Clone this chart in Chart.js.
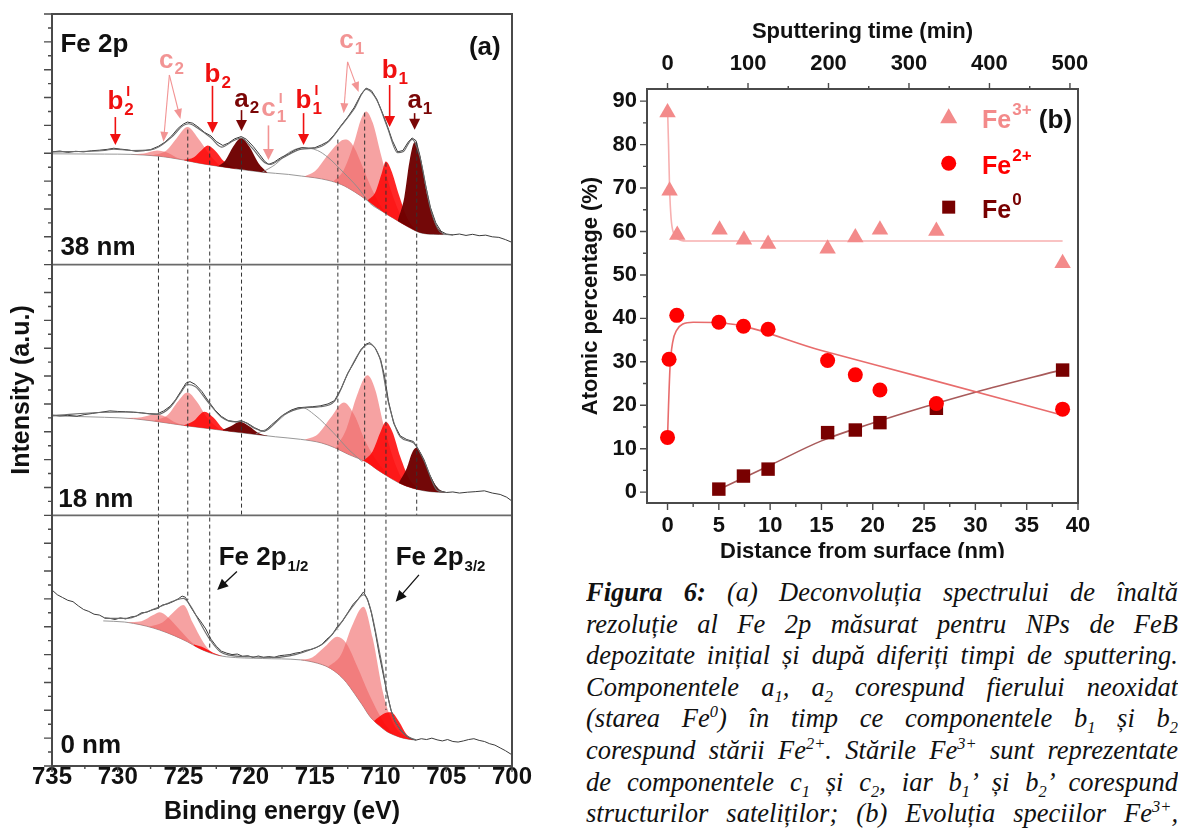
<!DOCTYPE html>
<html>
<head>
<meta charset="utf-8">
<script src="https://cdn.jsdelivr.net/npm/chart.js@4.4.1/dist/chart.umd.min.js"></script>
<style>
  body { margin: 0; background: #fff; width: 1194px; height: 828px; overflow: hidden; position: relative; }
  #cA { position: absolute; left: 0; top: 0; }
  #cB { position: absolute; left: 560px; top: 0; }
  #cap { position: absolute; left: 586px; top: 577px; width: 592px; height: 251px; overflow: hidden;
         font: italic 26.5px 'Liberation Serif', 'Times New Roman', serif; line-height: 31.6px; color: #111; }
  #cap div { text-align: justify; text-align-last: justify; }
  #cap sub, #cap sup { font-size: 62%; line-height: 0; }
</style>
</head>
<body>
<canvas id="cA" width="545" height="828"></canvas>
<canvas id="cB" width="560" height="558"></canvas>
<div id="cap">
  <div><b>Figura 6:</b> (a) Deconvoluția spectrului de înaltă</div>
  <div>rezoluție al Fe 2p măsurat pentru NPs de FeB</div>
  <div>depozitate inițial și după diferiți timpi de sputtering.</div>
  <div>Componentele a<sub>1</sub>, a<sub>2</sub> corespund fierului neoxidat</div>
  <div>(starea Fe<sup>0</sup>) în timp ce componentele b<sub>1</sub> și b<sub>2</sub></div>
  <div>corespund stării Fe<sup>2+</sup>. Stările Fe<sup>3+</sup> sunt reprezentate</div>
  <div>de componentele c<sub>1</sub> și c<sub>2</sub>, iar b<sub>1</sub>’ și b<sub>2</sub>’ corespund</div>
  <div>structurilor sateliților; (b) Evoluția speciilor Fe<sup>3+</sup>,</div>
</div>
<script>
Chart.defaults.font.family = "'Liberation Sans', Arial, sans-serif";

// ---------- panel (a): Fe 2p spectra, [binding energy eV, intensity inside its panel (0..9)]
const exp38 = [[735.0,4.05],[734.4,4.08],[733.8,4.03],[733.2,4.07],[732.6,4.05],[732.0,4.09],[731.4,4.11],[730.8,4.14],[730.3,4.18],[729.8,4.15],[729.2,4.12],[728.6,4.07],[728.0,4.09],[727.5,4.13],[726.9,4.25],[726.4,4.4],[725.9,4.62],[725.4,4.9],[725.0,5.05],[724.7,5.12],[724.3,5.08],[723.9,4.95],[723.4,4.75],[722.9,4.62],[722.5,4.42],[722.0,4.28],[721.6,4.36],[721.1,4.52],[720.6,4.6],[720.2,4.5],[719.7,4.25],[719.2,3.95],[718.8,3.7],[718.5,3.6],[718.1,3.68],[717.6,3.84],[717.0,3.98],[716.5,4.12],[716.0,4.2],[715.5,4.18],[715.0,4.2],[714.5,4.3],[714.0,4.42],[713.5,4.68],[713.0,5.0],[712.5,5.3],[712.0,5.65],[711.5,6.1],[711.1,6.34],[710.7,6.25],[710.3,5.95],[709.9,5.5],[709.5,5.0],[709.1,4.45],[708.7,4.05],[708.3,4.1],[707.9,4.4],[707.6,4.55],[707.3,4.45],[707.0,3.9],[706.6,2.9],[706.2,2.05],[705.8,1.5],[705.4,1.2],[705.0,1.1],[704.5,1.07],[704.0,1.1],[703.5,1.05],[703.0,1.09],[702.5,1.04],[702.0,1.06],[701.5,1.0],[701.0,0.98],[700.5,0.9],[700.0,0.8]];
const env38 = [[735.0,4.05],[731.0,4.1],[730.3,4.15],[729.0,4.1],[727.5,4.12],[726.9,4.22],[725.9,4.58],[725.0,5.0],[724.6,5.06],[723.9,4.9],[722.9,4.55],[722.1,4.22],[721.2,4.45],[720.6,4.55],[719.8,4.2],[718.8,3.66],[718.4,3.6],[717.5,3.82],[716.0,4.15],[715.0,4.18],[714.0,4.4],[713.0,4.98],[712.0,5.6],[711.1,6.3],[710.3,5.92],[709.5,4.95],[708.7,4.02],[708.3,4.05],[707.6,4.5],[707.0,3.85],[706.2,2.0],[705.4,1.15],[704.5,1.07]];
const bg38 = [[735.0,3.98],[731.0,3.97],[729.0,3.96],[727.0,3.9],[726.0,3.84],[725.0,3.76],[724.0,3.66],[723.0,3.58],[722.0,3.51],[721.0,3.44],[720.0,3.38],[719.0,3.32],[718.0,3.28],[717.0,3.24],[716.0,3.18],[715.0,3.12],[714.0,3.03],[713.0,2.88],[712.0,2.62],[711.0,2.3],[710.0,1.95],[709.0,1.66],[708.0,1.38],[707.0,1.15],[706.0,1.09],[705.0,1.08],[704.5,1.07]];
const comps38 = [
  { kind: 'c', pts: [[729.0,3.96],[728.0,3.99],[727.0,4.1],[726.2,4.02],[725.4,3.82],[724.6,3.71]] },
  { kind: 'c', pts: [[727.4,3.92],[726.3,4.1],[725.5,4.55],[724.7,4.94],[723.9,4.55],[723.0,3.95],[722.2,3.53]] },
  { kind: 'b', pts: [[725.0,3.76],[724.2,3.86],[723.6,4.12],[723.15,4.28],[722.6,4.1],[721.9,3.7],[721.0,3.44]] },
  { kind: 'a', pts: [[722.4,3.52],[721.8,3.75],[721.2,4.25],[720.6,4.55],[720.0,4.25],[719.3,3.65],[718.6,3.3]] },
  { kind: 'sat', pts: [[719.0,3.32],[718.0,3.6],[717.0,4.02],[715.9,4.2],[714.8,4.1],[714.0,3.85],[712.8,3.3],[711.7,2.75],[710.8,2.2],[710.0,1.95]] },
  { kind: 'c', pts: [[715.8,3.17],[715.0,3.35],[714.0,3.95],[713.0,4.45],[712.6,4.49],[712.0,4.2],[711.4,3.55],[710.6,2.65],[709.6,1.85],[709.0,1.66]] },
  { kind: 'c', pts: [[713.6,2.98],[712.8,3.4],[712.0,4.4],[711.5,5.2],[711.1,5.5],[710.6,5.1],[710.0,4.0],[709.3,2.8],[708.6,1.9],[708.0,1.38]] },
  { kind: 'b', pts: [[711.0,2.3],[710.4,2.6],[709.9,3.3],[709.6,3.7],[709.2,3.4],[708.6,2.5],[708.0,1.7],[707.3,1.22]] },
  { kind: 'a', pts: [[708.7,1.57],[708.2,2.4],[707.8,3.7],[707.4,4.4],[707.0,3.9],[706.5,2.6],[705.9,1.55],[705.2,1.08]] },
];

const exp18 = [[735.0,3.6],[734.4,3.57],[733.8,3.59],[733.1,3.56],[732.5,3.62],[731.9,3.66],[731.3,3.7],[730.6,3.75],[730.0,3.73],[729.4,3.72],[728.8,3.7],[728.2,3.68],[727.6,3.65],[727.0,3.64],[726.5,3.75],[726.0,3.92],[725.6,4.15],[725.2,4.45],[724.8,4.75],[724.5,4.8],[724.1,4.7],[723.6,4.45],[723.1,4.1],[722.6,3.78],[722.1,3.55],[721.6,3.4],[721.0,3.36],[720.6,3.4],[720.1,3.3],[719.6,3.15],[719.1,3.04],[718.8,3.02],[718.3,3.25],[717.8,3.45],[717.3,3.64],[716.8,3.78],[716.3,3.86],[715.8,3.88],[715.2,3.9],[714.6,3.93],[714.0,4.0],[713.5,4.12],[713.0,4.55],[712.5,5.1],[712.0,5.5],[711.5,5.95],[711.1,6.15],[710.8,6.2],[710.4,6.0],[710.0,5.6],[709.7,5.0],[709.4,4.1],[709.0,3.3],[708.5,2.85],[708.0,2.72],[707.5,2.65],[707.1,2.35],[706.7,2.0],[706.3,1.5],[705.9,1.1],[705.5,0.88],[705.0,0.82],[704.5,0.84],[704.0,0.8],[703.4,0.83],[702.8,0.85],[702.1,0.88],[701.5,0.8],[700.9,0.75],[700.4,0.65],[700.0,0.51]];
const env18 = [[735.0,3.58],[731.0,3.7],[729.0,3.71],[727.0,3.62],[726.0,3.88],[725.2,4.4],[724.7,4.7],[724.1,4.62],[723.1,4.05],[722.1,3.52],[721.0,3.35],[720.6,3.38],[719.6,3.13],[718.9,3.02],[717.4,3.6],[716.0,3.85],[714.6,3.9],[713.5,4.1],[712.5,5.08],[711.5,5.92],[710.9,6.15],[710.0,5.55],[709.4,4.05],[708.5,2.82],[707.5,2.6],[706.7,1.97],[705.7,0.9],[705.0,0.82]];
const bg18 = [[735.0,3.57],[731.0,3.52],[728.8,3.47],[726.0,3.3],[724.7,3.21],[722.5,3.08],[720.7,2.97],[718.0,2.82],[716.1,2.73],[714.5,2.6],[713.5,2.43],[712.5,2.2],[711.0,1.89],[710.2,1.62],[709.5,1.41],[708.4,1.12],[707.2,0.93],[706.2,0.85],[705.0,0.82]];
const comps18 = [
  { kind: 'c', pts: [[729.5,3.49],[728.2,3.52],[727.2,3.62],[726.4,3.55],[725.6,3.33],[724.8,3.22]] },
  { kind: 'c', pts: [[727.2,3.41],[726.2,3.6],[725.4,4.1],[724.7,4.41],[724.0,4.1],[723.2,3.5],[722.3,3.1]] },
  { kind: 'b', pts: [[725.0,3.23],[724.2,3.4],[723.4,3.72],[722.7,3.5],[722.0,3.12],[721.2,3.01]] },
  { kind: 'a', pts: [[722.0,3.07],[721.4,3.2],[720.7,3.36],[720.0,3.2],[719.3,2.96],[718.6,2.86]] },
  { kind: 'sat', pts: [[719.5,2.92],[718.3,3.2],[717.0,3.7],[716.0,3.87],[715.0,3.6],[713.6,2.97],[712.4,2.35],[711.4,1.93]] },
  { kind: 'c', pts: [[715.8,2.71],[714.8,2.9],[713.8,3.5],[712.8,4.05],[712.0,3.6],[711.2,2.7],[710.2,1.9],[709.2,1.35]] },
  { kind: 'c', pts: [[713.4,2.42],[712.6,3.1],[711.8,4.3],[711.0,5.03],[710.4,4.5],[709.8,3.3],[709.0,2.0],[708.2,1.1]] },
  { kind: 'b', pts: [[711.4,1.92],[710.6,2.3],[710.0,3.0],[709.6,3.35],[709.1,3.0],[708.5,2.1],[707.8,1.3],[707.0,0.92]] },
  { kind: 'a', pts: [[708.6,1.18],[708.0,1.7],[707.6,2.25],[707.3,2.43],[706.9,2.2],[706.3,1.5],[705.6,0.95],[705.0,0.82]] },
];

const exp0 = [[735.0,6.32],[734.6,6.15],[734.2,6.05],[733.8,5.95],[733.4,5.9],[733.0,5.75],[732.6,5.62],[732.2,5.55],[731.8,5.45],[731.4,5.42],[731.0,5.32],[730.6,5.3],[730.2,5.26],[729.8,5.32],[729.4,5.28],[729.0,5.35],[728.6,5.38],[728.2,5.5],[727.8,5.52],[727.4,5.6],[727.0,5.65],[726.6,5.78],[726.2,5.82],[725.8,5.9],[725.4,6.0],[725.1,6.1],[724.85,6.06],[724.5,5.75],[724.1,5.45],[723.7,5.2],[723.3,4.92],[722.9,4.55],[722.5,4.3],[722.1,4.12],[721.7,4.05],[721.3,4.0],[720.9,4.02],[720.5,3.94],[720.1,3.96],[719.7,3.9],[719.3,3.95],[718.9,3.9],[718.5,3.93],[718.1,3.9],[717.7,3.96],[717.3,3.98],[716.9,4.0],[716.5,4.05],[716.1,4.08],[715.7,4.15],[715.3,4.18],[714.9,4.25],[714.5,4.35],[714.1,4.55],[713.7,4.7],[713.3,5.0],[712.9,5.2],[712.5,5.5],[712.1,5.8],[711.7,6.0],[711.3,6.25],[711.0,6.0],[710.7,5.5],[710.4,4.8],[710.1,4.0],[709.8,3.3],[709.5,2.6],[709.2,2.0],[708.9,1.6],[708.5,1.3],[708.1,1.1],[707.7,0.98],[707.3,0.93],[706.9,0.98],[706.5,0.95],[706.1,1.0],[705.7,0.94],[705.3,0.9],[704.9,0.95],[704.5,0.88],[704.1,0.86],[703.7,0.9],[703.3,0.95],[702.9,0.98],[702.5,0.92],[702.1,0.88],[701.7,0.8],[701.3,0.75],[700.9,0.65],[700.5,0.55],[700.0,0.4]];
const env0 = [[731.0,5.3],[729.3,5.3],[728.0,5.5],[726.8,5.72],[725.6,5.95],[725.0,6.02],[724.6,5.85],[723.8,5.2],[723.0,4.55],[722.2,4.1],[721.5,3.98],[719.9,3.92],[718.0,3.9],[716.5,4.0],[715.5,4.15],[714.3,4.42],[713.3,4.95],[712.0,5.8],[711.3,6.15],[710.8,5.7],[710.0,3.9],[709.2,2.0],[708.2,1.15],[707.3,0.93]];
const bg0 = [[731.1,5.21],[729.5,5.17],[728.8,5.12],[727.8,5.02],[726.8,4.88],[725.7,4.68],[724.7,4.46],[723.9,4.25],[723.2,4.1],[722.4,3.98],[721.7,3.92],[719.0,3.86],[716.1,3.81],[714.8,3.69],[714.0,3.55],[713.3,3.33],[712.6,3.0],[712.0,2.61],[711.4,2.2],[710.8,1.77],[710.1,1.45],[709.5,1.23],[708.8,1.08],[708.2,0.99],[707.3,0.93]];
const comps0 = [
  { kind: 'c', pts: [[729.3,5.16],[728.2,5.2],[727.3,5.42],[726.8,5.52],[726.2,5.35],[725.3,4.9],[724.4,4.45],[723.4,4.15]] },
  { kind: 'c', pts: [[727.6,5.0],[726.6,5.15],[725.8,5.5],[725.0,5.78],[724.3,5.15],[723.5,4.45],[722.8,4.05],[722.2,3.96]] },
  { kind: 'b', pts: [[724.2,4.36],[723.4,4.24],[722.7,4.06],[722.0,3.94]] },
  { kind: 'c', pts: [[716.2,3.81],[715.2,3.9],[714.2,4.3],[713.3,4.64],[712.6,4.4],[711.8,3.6],[710.8,2.5],[709.8,1.6],[709.0,1.12]] },
  { kind: 'c', pts: [[714.0,3.55],[713.0,4.0],[712.2,5.0],[711.3,5.72],[710.6,4.6],[709.8,2.6],[709.0,1.5],[708.0,1.03],[707.3,0.93]] },
  { kind: 'b', pts: [[710.5,1.62],[709.8,1.87],[709.2,1.93],[708.6,1.6],[708.0,1.12],[707.4,0.94]] },
];

// panels stacked from top: 38 nm, 18 nm, 0 nm
const panels = [
  { offset: 18, exp: exp38, env: env38, bg: bg38, comps: comps38 },
  { offset: 9,  exp: exp18, env: env18, bg: bg18, comps: comps18 },
  { offset: 0,  exp: exp0,  env: env0,  bg: bg0,  comps: comps0 },
];

// dashed peak positions: [eV, top, bottom] on the stacked scale
const peakLines = [[726.9,21.88,5.6],[724.67,22.85,5.96],[723.0,22.24,4.17],[720.58,22.49,9],[713.25,22.49,4.88],[711.21,23.46,6.21],[709.59,21.66,2.01],[707.25,22.38,9]];

const PINK = '#f29494', RED = '#f01010', DARK = '#7a0606';
// peak labels: main letter, superscript, subscript, colour, x (eV), text baseline, arrows [x1,y1,x2,y2]
const peakLabels = [
  { main: 'b', sup: 'I', sub: '2', color: RED,  x: 730.18, y: 23.59, arrows: [[730.18,23.3,730.18,22.3]] },
  { main: 'c', sub: '2', color: PINK, x: 726.3, y: 25.06, arrows: [[726.07,24.81,726.52,22.41],[726.07,24.81,725.23,23.23]] },
  { main: 'b', sub: '2', color: RED,  x: 722.79, y: 24.56, arrows: [[722.79,24.42,722.79,22.73]] },
  { main: 'a', sub: '2', color: DARK, x: 720.58, y: 23.66, arrows: [[720.58,23.55,720.58,22.8]] },
  { main: 'c', sup: 'I', sub: '1', color: PINK, x: 718.53, y: 23.34, arrows: [[718.53,23.0,718.53,21.76]] },
  { main: 'b', sup: 'I', sub: '1', color: RED,  x: 715.86, y: 23.63, arrows: [[715.86,23.44,715.86,22.3]] },
  { main: 'c', sub: '1', color: PINK, x: 712.6, y: 25.78, arrows: [[712.51,25.28,712.81,23.44],[712.51,25.28,711.67,24.2]] },
  { main: 'b', sub: '1', color: RED,  x: 709.31, y: 24.7, arrows: [[709.31,24.45,709.31,22.94]] },
  { main: 'a', sub: '1', color: DARK, x: 707.41, y: 23.63, arrows: [[707.41,23.44,707.41,22.84]] },
];
const orbitLabels = [
  { text: 'Fe 2p', sub: '1/2', x: 722.32, y: 7.22, arrow: [720.93,6.98,722.43,6.32] },
  { text: 'Fe 2p', sub: '3/2', x: 708.85, y: 7.22, arrow: [707.08,6.86,708.85,5.9] },
];
const panelTexts = [
  { text: 'Fe 2p', x: 734.36, y: 25.64, align: 'left' },
  { text: '(a)', x: 700.86, y: 25.53, align: 'right' },
  { text: '38 nm', x: 734.36, y: 18.35, align: 'left' },
  { text: '18 nm', x: 734.52, y: 9.3, align: 'left' },
  { text: '0 nm', x: 734.36, y: 0.47, align: 'left' },
];

// ---------- panel (b): atomic percentage vs depth
const fe3X = [0, 0.2, 0.95, 5.07, 7.45, 9.8, 15.6, 18.3, 20.7, 26.2, 38.5];
const fe3Y = [87.4, 69.4, 59.2, 60.4, 58.1, 57.1, 56.0, 58.6, 60.4, 60.1, 52.7];
const fe2X = [0, 0.15, 0.9, 5.0, 7.4, 9.8, 15.6, 18.3, 20.7, 26.2, 38.5];
const fe2Y = [12.6, 30.6, 40.7, 39.1, 38.2, 37.5, 30.3, 27.0, 23.5, 20.4, 19.1];
const fe0X = [5.0, 7.4, 9.8, 15.6, 18.3, 20.7, 26.2, 38.5];
const fe0Y = [0.7, 3.7, 5.3, 13.7, 14.3, 16.0, 19.3, 28.1];
const fe3FitX = [0, 0.1, 0.2, 0.35, 0.6, 1.0, 1.8, 38.5];
const fe3FitY = [88.5, 80, 70, 63, 59.5, 58.3, 57.8, 57.8];
const fe2FitX = [0, 0.1, 0.25, 0.5, 0.9, 1.5, 2.5, 5, 15, 25, 38.5];
const fe2FitY = [12.5, 20, 29, 34.5, 37.3, 38.7, 39.1, 39.0, 32.6, 26.3, 17.7];
const fe0FitX = [5, 10, 15, 20, 25, 30, 38.5];
const fe0FitY = [0.6, 6.2, 11.8, 15.9, 19.6, 23.0, 28.2];
const C3 = '#f38a8a', C2 = '#ff0000', C0 = '#780000';

// ---------- helpers
const toXY = (arr, off) => arr.map(p => ({ x: p[0], y: p[1] + off }));
const zip = (xs, ys) => xs.map((v, i) => ({ x: v, y: ys[i] }));

function tickMarks(ctx, scale, a, from, to, step, len, side) {
  ctx.beginPath();
  for (let v = from; v <= to + 1e-6; v += step) {
    const p = scale.getPixelForValue(v);
    if (side === 'left') { ctx.moveTo(a.left, p); ctx.lineTo(a.left - len, p); }
    else if (side === 'bottom') { ctx.moveTo(p, a.bottom); ctx.lineTo(p, a.bottom + len); }
    else { ctx.moveTo(p, a.top); ctx.lineTo(p, a.top - len); }
  }
  ctx.stroke();
}

function arrow(ctx, x1, y1, x2, y2, color, lw, head, half) {
  const ang = Math.atan2(y2 - y1, x2 - x1);
  const c = Math.cos(ang), s = Math.sin(ang);
  ctx.strokeStyle = color; ctx.fillStyle = color; ctx.lineWidth = lw;
  ctx.beginPath(); ctx.moveTo(x1, y1); ctx.lineTo(x2 - c * head * 0.7, y2 - s * head * 0.7); ctx.stroke();
  ctx.beginPath();
  ctx.moveTo(x2, y2);
  ctx.lineTo(x2 - c * head - s * half, y2 - s * head + c * half);
  ctx.lineTo(x2 - c * head + s * half, y2 - s * head - c * half);
  ctx.closePath(); ctx.fill();
}

const FONT = "'Liberation Sans', Arial, sans-serif";

// ---------- chart (a)
const fills = { c: 'rgba(240,100,100,0.6)', b: 'rgba(255,0,0,0.85)', a: 'rgba(110,0,0,0.97)' };
const orders = { c: 6, b: 5, a: 4 };
const dsA = [];
panels.forEach(p => {
  const bgIndex = dsA.length;
  dsA.push({ data: toXY(p.bg, p.offset), borderColor: '#8c8c8c', borderWidth: 0.9, cubicInterpolationMode: 'monotone', order: 8 });
  p.comps.forEach(c => {
    if (c.kind === 'sat') {
      dsA.push({ data: toXY(c.pts, p.offset), borderColor: '#8c8c8c', borderWidth: 0.9, cubicInterpolationMode: 'monotone', order: 3 });
    } else {
      dsA.push({ data: toXY(c.pts, p.offset), borderColor: 'rgba(0,0,0,0)', borderWidth: 0,
        backgroundColor: fills[c.kind], fill: { target: bgIndex }, cubicInterpolationMode: 'monotone', order: orders[c.kind] });
    }
  });
  dsA.push({ data: toXY(p.env, p.offset), borderColor: '#6a6a6a', borderWidth: 1.1, cubicInterpolationMode: 'monotone', order: 0 });
  dsA.push({ data: toXY(p.exp, p.offset), borderColor: '#3a3a3a', borderWidth: 1, tension: 0, order: 0 });
});
peakLines.forEach(l => {
  dsA.push({ data: [{ x: l[0], y: l[1] }, { x: l[0], y: l[2] }], borderColor: '#333', borderWidth: 1, borderDash: [4, 3], tension: 0, order: 1 });
});

const decorA = {
  id: 'decorA',
  afterDraw(chart) {
    const { ctx, chartArea: a, scales: { x, y } } = chart;
    ctx.save();
    // frame and panel dividers
    ctx.strokeStyle = '#6a6a6a'; ctx.lineWidth = 1.6;
    [9, 18].forEach(v => {
      const py = y.getPixelForValue(v);
      ctx.beginPath(); ctx.moveTo(a.left, py); ctx.lineTo(a.right, py); ctx.stroke();
    });
    ctx.strokeStyle = '#4a4a4a'; ctx.lineWidth = 2;
    ctx.strokeRect(a.left, a.top, a.right - a.left, a.bottom - a.top);
    ctx.lineWidth = 1.4;
    tickMarks(ctx, y, a, 0, 27, 1, 8, 'left');
    tickMarks(ctx, y, a, 0.5, 26.5, 1, 4, 'left');
    tickMarks(ctx, x, a, 700, 735, 5, 6, 'bottom');
    tickMarks(ctx, x, a, 702.5, 732.5, 5, 3, 'bottom');

    // panel texts
    ctx.fillStyle = '#111'; ctx.textBaseline = 'alphabetic';
    ctx.font = 'bold 26px ' + FONT;
    panelTexts.forEach(t => {
      ctx.textAlign = t.align;
      ctx.fillText(t.text, x.getPixelForValue(t.x), y.getPixelForValue(t.y));
    });

    // peak labels with arrows
    ctx.textAlign = 'left';
    peakLabels.forEach(l => {
      l.arrows.forEach(r => {
        const double = l.arrows.length > 1;
        arrow(ctx, x.getPixelForValue(r[0]), y.getPixelForValue(r[1]), x.getPixelForValue(r[2]), y.getPixelForValue(r[3]),
          l.color, double ? 1.1 : 1.6, double ? 10 : 11, double ? 4 : 5.5);
      });
      ctx.fillStyle = l.color;
      ctx.font = 'bold 26px ' + FONT;
      const w = ctx.measureText(l.main).width;
      const left = x.getPixelForValue(l.x) - w / 2;
      const base = y.getPixelForValue(l.y);
      ctx.fillText(l.main, left, base);
      if (l.sub) { ctx.font = 'bold 17px ' + FONT; ctx.fillText(l.sub, left + w + 1, base + 6); }
      if (l.sup) { ctx.font = 'bold 14px ' + FONT; ctx.fillText(l.sup, left + w + 3, base - 13); }
    });

    // spin-orbit labels in the 0 nm panel
    orbitLabels.forEach(l => {
      const r = l.arrow;
      arrow(ctx, x.getPixelForValue(r[0]), y.getPixelForValue(r[1]), x.getPixelForValue(r[2]), y.getPixelForValue(r[3]), '#111', 1.3, 11, 5);
      ctx.fillStyle = '#111';
      ctx.font = 'bold 26px ' + FONT;
      const px = x.getPixelForValue(l.x), py = y.getPixelForValue(l.y);
      ctx.fillText(l.text, px, py);
      const w = ctx.measureText(l.text).width;
      ctx.font = 'bold 15px ' + FONT;
      ctx.fillText(l.sub, px + w + 1, py + 6);
    });
    ctx.restore();
  }
};

new Chart(document.getElementById('cA'), {
  type: 'line',
  data: { datasets: dsA },
  options: {
    responsive: false,
    animation: false,
    events: [],
    layout: { padding: { left: 0, top: 14, right: 33, bottom: 0 } },
    elements: { point: { radius: 0 } },
    plugins: { legend: { display: false }, tooltip: { enabled: false } },
    scales: {
      x: {
        type: 'linear', min: 700, max: 735, reverse: true,
        grid: { display: false, drawTicks: false }, border: { display: false },
        ticks: { stepSize: 5, padding: -3, color: '#111', font: { size: 24, weight: 'bold' }, maxRotation: 0, autoSkip: false },
        title: { display: true, text: 'Binding energy (eV)', color: '#111', font: { size: 25, weight: 'bold' }, padding: { top: 0, bottom: 1 } },
        afterFit: s => { s.height = 62; }
      },
      y: {
        type: 'linear', min: 0, max: 27,
        grid: { display: false, drawTicks: false }, border: { display: false },
        ticks: { display: false },
        title: { display: true, text: 'Intensity (a.u.)', color: '#111', font: { size: 25, weight: 'bold' }, padding: { top: 7, bottom: 0 } },
        afterFit: s => { s.width = 52; }
      }
    }
  },
  plugins: [decorA]
});

// ---------- chart (b)
const legendB = [
  { label: 'Fe', sup: '3+', color: C3, shape: 'triangle', x: 27.4, y: 86.3, tx: 30.65, ty: 83.8 },
  { label: 'Fe', sup: '2+', color: C2, shape: 'circle', x: 27.4, y: 75.7, tx: 30.65, ty: 73.2 },
  { label: 'Fe', sup: '0', color: C0, shape: 'rect', x: 27.4, y: 65.6, tx: 30.65, ty: 63.1 },
];

const decorB = {
  id: 'decorB',
  afterDraw(chart) {
    const { ctx, chartArea: a, scales: { x, x2, y } } = chart;
    ctx.save();
    ctx.strokeStyle = '#4a4a4a'; ctx.lineWidth = 2;
    ctx.strokeRect(a.left, a.top, a.right - a.left, a.bottom - a.top);
    ctx.lineWidth = 1.4;
    tickMarks(ctx, y, a, 0, 90, 10, 7, 'left');
    tickMarks(ctx, y, a, 5, 85, 10, 4, 'left');
    tickMarks(ctx, x, a, 0, 40, 5, 7, 'bottom');
    tickMarks(ctx, x, a, 2.5, 37.5, 5, 4, 'bottom');
    tickMarks(ctx, x2, a, 0, 500, 100, 6, 'top');
    tickMarks(ctx, x2, a, 50, 450, 100, 3, 'top');

    legendB.forEach(l => {
      const px = x.getPixelForValue(l.x), py = y.getPixelForValue(l.y);
      ctx.fillStyle = l.color;
      ctx.beginPath();
      if (l.shape === 'triangle') { ctx.moveTo(px, py - 9); ctx.lineTo(px + 8.5, py + 6); ctx.lineTo(px - 8.5, py + 6); ctx.closePath(); }
      else if (l.shape === 'circle') { ctx.arc(px, py, 7.5, 0, Math.PI * 2); }
      else { ctx.rect(px - 6.5, py - 6.5, 13, 13); }
      ctx.fill();
      const tx = x.getPixelForValue(l.tx), ty = y.getPixelForValue(l.ty);
      ctx.font = 'bold 25px ' + FONT; ctx.textAlign = 'left'; ctx.textBaseline = 'alphabetic';
      ctx.fillText(l.label, tx, ty);
      const w = ctx.measureText(l.label).width;
      ctx.font = 'bold 17px ' + FONT;
      ctx.fillText(l.sup, tx + w + 1, ty - 13);
    });
    ctx.fillStyle = '#111'; ctx.font = 'bold 26px ' + FONT; ctx.textAlign = 'right';
    ctx.fillText('(b)', x.getPixelForValue(39.42), y.getPixelForValue(83.8));
    ctx.restore();
  }
};

const tickFont = { size: 22, weight: 'bold' };
const titleFont = { size: 22, weight: 'bold' };
new Chart(document.getElementById('cB'), {
  type: 'line',
  data: {
    datasets: [
      { data: zip(fe2X, fe2Y), showLine: false, pointStyle: 'circle', pointRadius: 7.5, pointBackgroundColor: C2, pointBorderWidth: 0, order: 0 },
      { data: zip(fe3X, fe3Y), showLine: false, pointStyle: 'triangle', pointRadius: 9.5, pointBackgroundColor: C3, pointBorderWidth: 0, order: 1 },
      { data: zip(fe0X, fe0Y), showLine: false, pointStyle: 'rect', pointRadius: 9.5, pointBackgroundColor: C0, pointBorderWidth: 0, order: 2 },
      { data: zip(fe3FitX, fe3FitY), borderColor: '#f7b0b0', borderWidth: 1.6, pointRadius: 0, cubicInterpolationMode: 'monotone', order: 3 },
      { data: zip(fe2FitX, fe2FitY), borderColor: '#e86c6c', borderWidth: 1.6, pointRadius: 0, cubicInterpolationMode: 'monotone', order: 4 },
      { data: zip(fe0FitX, fe0FitY), borderColor: '#a85a5a', borderWidth: 1.6, pointRadius: 0, cubicInterpolationMode: 'monotone', order: 5 },
    ]
  },
  options: {
    responsive: false,
    animation: false,
    events: [],
    layout: { padding: { left: 0, top: 0, right: 42, bottom: 0 } },
    plugins: { legend: { display: false }, tooltip: { enabled: false } },
    scales: {
      x: {
        type: 'linear', position: 'bottom', min: -2, max: 40,
        grid: { display: false, drawTicks: false }, border: { display: false },
        ticks: { stepSize: 5, includeBounds: false, padding: 10, color: '#111', font: tickFont, maxRotation: 0, autoSkip: false,
                 callback: v => (v >= 0 && v % 5 === 0 ? v : null) },
        title: { display: true, text: 'Distance from surface (nm)', color: '#111', font: titleFont, padding: { top: 0, bottom: -7 } },
        afterFit: s => { s.height = 55; }
      },
      x2: {
        type: 'linear', position: 'top', min: -25.5, max: 510,
        grid: { display: false, drawTicks: false }, border: { display: false },
        ticks: { stepSize: 100, includeBounds: false, padding: 12, color: '#111', font: tickFont, maxRotation: 0, autoSkip: false,
                 callback: v => (v >= 0 && v % 100 === 0 ? v : null) },
        title: { display: true, text: 'Sputtering time (min)', color: '#111', font: titleFont, padding: { top: 19, bottom: 0 } },
        afterFit: s => { s.height = 89; }
      },
      y: {
        type: 'linear', min: -2.5, max: 92.8,
        grid: { display: false, drawTicks: false }, border: { display: false },
        ticks: { stepSize: 10, includeBounds: false, padding: 10, color: '#111', font: tickFont, autoSkip: false,
                 callback: v => (v >= 0 && v % 10 === 0 ? v : null) },
        title: { display: true, text: 'Atomic percentage (%)', color: '#111', font: titleFont, padding: { top: 18, bottom: 0 } },
        afterFit: s => { s.width = 87; }
      }
    }
  },
  plugins: [decorB]
});
</script>
</body>
</html>
